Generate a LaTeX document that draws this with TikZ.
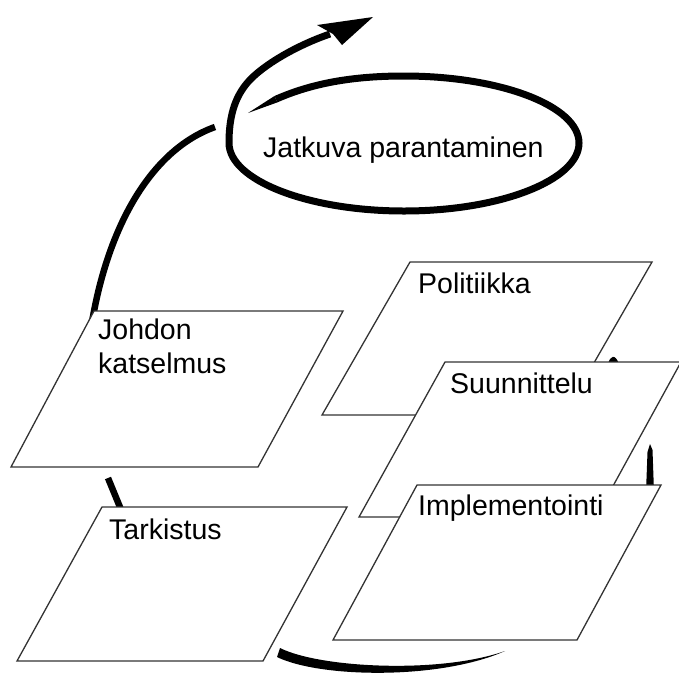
\documentclass[tikz,border=0pt]{standalone}
\usepackage{fontspec}
\setmainfont{Liberation Sans}
\begin{document}
\begin{tikzpicture}[x=1pt,y=-1pt,
  panel/.style={draw=black!80, line width=1.3pt, fill=white, line join=miter},
  boxtext/.style={anchor=base west, inner sep=0pt, text=black,
                  font=\fontsize{28.5}{34}\selectfont},
  flow/.style={draw=black, line width=6.5pt, line cap=butt}]
\useasboundingbox (0,0) rectangle (679,673);
\fill[white] (0,0) rectangle (679,673);

% ---- improvement spiral with its arrow head ----
\coordinate (spstart) at (248,113);
\coordinate (sp0) at (275.9,99.2);
\coordinate (sptop) at (404,76);
\coordinate (spright) at (579,143);
\coordinate (spbottom) at (404,211);
\coordinate (spleft) at (229,143);
\coordinate (spup) at (248,82);
\coordinate (spend) at (330,34);
\coordinate (tip) at (373,17);
\fill (spstart) -- (277.3,102.4) -- (274.5,96.0) -- cycle;
\draw[flow, line width=7pt] (sp0) .. controls (305.9,86.1) and (344,76) .. (sptop)
   .. controls (500.6,76) and (579,106) .. (spright)
   .. controls (579,180) and (500.6,211) .. (spbottom)
   .. controls (307.4,211) and (229,180) .. (spleft)
   .. controls (229,118) and (234,98) .. (spup)
   .. controls (262,66) and (295,46) .. (spend);
\fill (tip) -- (317,25) -- (333,34) -- (342,45) -- cycle;
\node[boxtext] (jp) at (263,157) {Jatkuva parantaminen};

% ---- cycle arrow pieces, partly hidden behind the panels ----
\coordinate (la0) at (90,335);
\coordinate (la1) at (215,127);
\draw[flow] (la0) .. controls (105,230) and (150,150) .. (la1);
\draw[flow] (108,478) -- (122,512);
\fill (280,648) .. controls (320,668) and (440,674) .. (505,651)
      .. controls (440,680) and (320,678) .. (277,657) -- cycle;
\fill (646,492) -- (647.5,452) -- (650,444) -- (652.5,450) -- (654,492) -- cycle;
\fill (608,364) .. controls (610,356) and (615,353) .. (619,364) -- cycle;

% ---- panels ----
\draw[panel] (94,311) -- (343,311) -- (258,467) -- (11,467) -- cycle;
\node[boxtext] (jo1) at (98,339) {Johdon};
\node[boxtext] (jo2) at (98,373) {katselmus};

\draw[panel] (102,507) -- (347,507) -- (263,661) -- (17,661) -- cycle;
\node[boxtext] (ta) at (109,539) {Tarkistus};

\draw[panel] (410,262) -- (652,262) -- (564,415) -- (322,415) -- cycle;
\node[boxtext] (po) at (418,293) {Politiikka};

\draw[panel] (445,362) -- (681,362) -- (596,517) -- (359,517) -- cycle;
\node[boxtext] (su) at (450,393) {Suunnittelu};

\draw[panel] (417,485) -- (661,485) -- (577,640) -- (333,640) -- cycle;
\node[boxtext] (im) at (418,515) {Implementointi};
\end{tikzpicture}
\end{document}
